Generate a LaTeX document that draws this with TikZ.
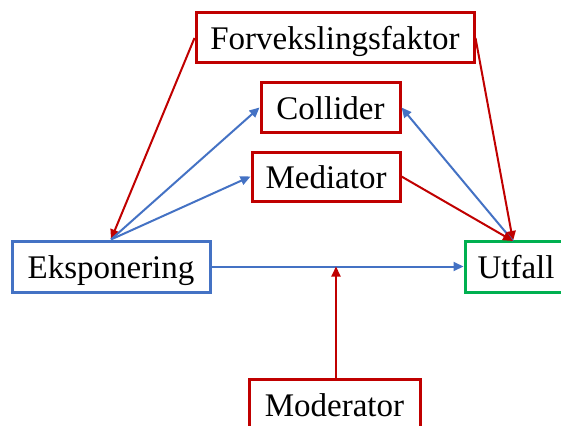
\documentclass[tikz,border=0pt]{standalone}
\usepackage{fontspec}
\setmainfont{Liberation Serif}
\usetikzlibrary{arrows.meta}
\definecolor{cred}{HTML}{C00000}
\definecolor{cblue}{HTML}{4472C4}
\definecolor{cgreen}{HTML}{00B050}
\begin{document}
\begin{tikzpicture}[x=1pt,y=-1pt,
  box/.style={draw, line width=3pt, fill=white, inner sep=0pt, font=\fontsize{33}{36}\selectfont, text height=28pt, text depth=4pt},
  redbox/.style={box, draw=cred},
  arr/.style={line width=2pt, -{Triangle[length=10pt,width=9pt]}},
  redarr/.style={arr, draw=cred, fill=cred},
  bluearr/.style={arr, draw=cblue, fill=cblue}]
\useasboundingbox (0,0) rectangle (561,425);
\node[redbox, minimum width=278pt, minimum height=50pt] (f) at (335,38) {Forvekslingsfaktor};
\node[redbox, minimum width=139pt, minimum height=49pt] (c) at (330.5,107.5) {Collider};
\node[redbox, minimum width=148pt, minimum height=49pt] (m) at (326,176.5) {Mediator};
\node[box, draw=cblue, minimum width=198pt, minimum height=51pt] (e) at (111,266.5) {Eksponering};
\node[box, draw=cgreen, minimum width=102pt, minimum height=51pt] (u) at (516,266.5) {Utfall};
\node[redbox, minimum width=171pt, minimum height=50pt] (mo) at (334.5,404) {Moderator};
\coordinate (j) at (336,266.5);
\coordinate (ut) at (513,241);
\draw[redarr] (f.west) -- (e.north);
\draw[redarr] (f.east) -- (ut);
\draw[bluearr] (e.north) -- (c.west);
\draw[bluearr] (ut) -- (c.east);
\draw[bluearr] (e.north) -- (m.west);
\draw[redarr] (m.east) -- (ut);
\draw[bluearr] (e.east) -- (u.west);
\draw[redarr] (mo.north -| j) -- (j);
\end{tikzpicture}
\end{document}
